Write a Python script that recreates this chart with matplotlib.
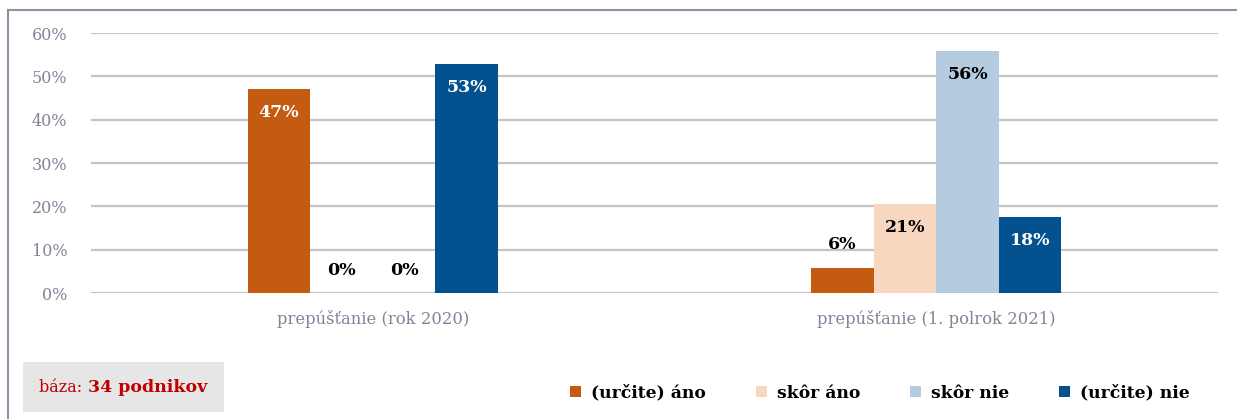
import numpy as np
import matplotlib
matplotlib.use('Agg')
import matplotlib.pyplot as plt
from matplotlib.patches import Patch, Rectangle
from matplotlib.lines import Line2D

categories = ['prepúšťanie (rok 2020)', 'prepúšťanie (1. polrok 2021)']
series = ['(určite) áno', 'skôr áno', 'skôr nie', '(určite) nie']
values = {
    '(určite) áno': [47.06, 5.88],
    'skôr áno': [0.0, 20.59],
    'skôr nie': [0.0, 55.88],
    '(určite) nie': [52.94, 17.65],
}
labels = {
    '(určite) áno': ['47%', '6%'],
    'skôr áno': ['0%', '21%'],
    'skôr nie': ['0%', '56%'],
    '(určite) nie': ['53%', '18%'],
}
colors = ['#c55a11', '#f8d7c0', '#b4cbe0', '#03518f']
label_colors = ['white', 'black', 'black', 'white']
yticks = [0, 10, 20, 30, 40, 50, 60]

plt.rcParams['font.family'] = ['DejaVu Serif']

fig = plt.figure(figsize=(12.37, 4.19), dpi=100)
ax = fig.add_axes([91 / 1237, 1 - 293 / 419, 1127 / 1237, 260 / 419])

x = np.arange(len(categories))
w = 0.111
for i, s in enumerate(series):
    pos = x + (i - 1.5) * w
    ax.bar(pos, values[s], width=w, color=colors[i], zorder=3)
    for px, v, lab in zip(pos, values[s], labels[s]):
        if v > 12:
            ax.text(px, v - 5.5, lab, ha='center', va='center', color=label_colors[i],
                    fontsize=12.5, fontweight='bold', zorder=4)
        else:
            ax.text(px, v + 5.2, lab, ha='center', va='center', color='black',
                    fontsize=12.5, fontweight='bold', zorder=4)

ax.set_xlim(-0.5, 1.5)
ax.set_ylim(0, 60)
ax.set_yticks(yticks)
ax.set_yticklabels([f'{t}%' for t in yticks])
ax.set_xticks(x)
ax.set_xticklabels(categories, fontsize=11.8)
ax.yaxis.grid(True, color='#c4c4c4', linewidth=1.6, zorder=0)
ax.set_axisbelow(True)
for sp in ax.spines.values():
    sp.set_visible(False)
ax.tick_params(axis='both', length=0, colors='#7f8597')
ax.tick_params(axis='y', labelsize=11.5, pad=17)
ax.tick_params(axis='x', pad=12)

# frame lines top and left
fig.add_artist(Line2D([8 / 1237, 1], [1 - 10 / 419, 1 - 10 / 419], color='#8c93a3', linewidth=1.5))
fig.add_artist(Line2D([8 / 1237, 8 / 1237], [0, 1 - 10 / 419], color='#8c93a3', linewidth=1.5))

# base box
fig.add_artist(Rectangle((23 / 1237, 1 - 412 / 419), 201 / 1237, 50 / 419,
                         facecolor='#e6e6e6', edgecolor='none', transform=fig.transFigure))
fig.text(39 / 1237, 1 - 387 / 419, 'báza: ', color='#c00000', fontsize=11.5, va='center')
fig.text(88 / 1237, 1 - 387 / 419, '34 podnikov', color='#c00000', fontsize=12.5,
         fontweight='bold', va='center')

handles = [Patch(facecolor=c, edgecolor='none') for c in colors]
leg = fig.legend(handles, series, loc='center', bbox_to_anchor=(880 / 1237, 1 - 393 / 419),
                 ncol=4, frameon=False, handlelength=0.65, handleheight=0.65,
                 handletextpad=0.6, columnspacing=2.9,
                 prop={'weight': 'bold', 'size': 12.3})

fig.savefig('out.png', dpi=100)
